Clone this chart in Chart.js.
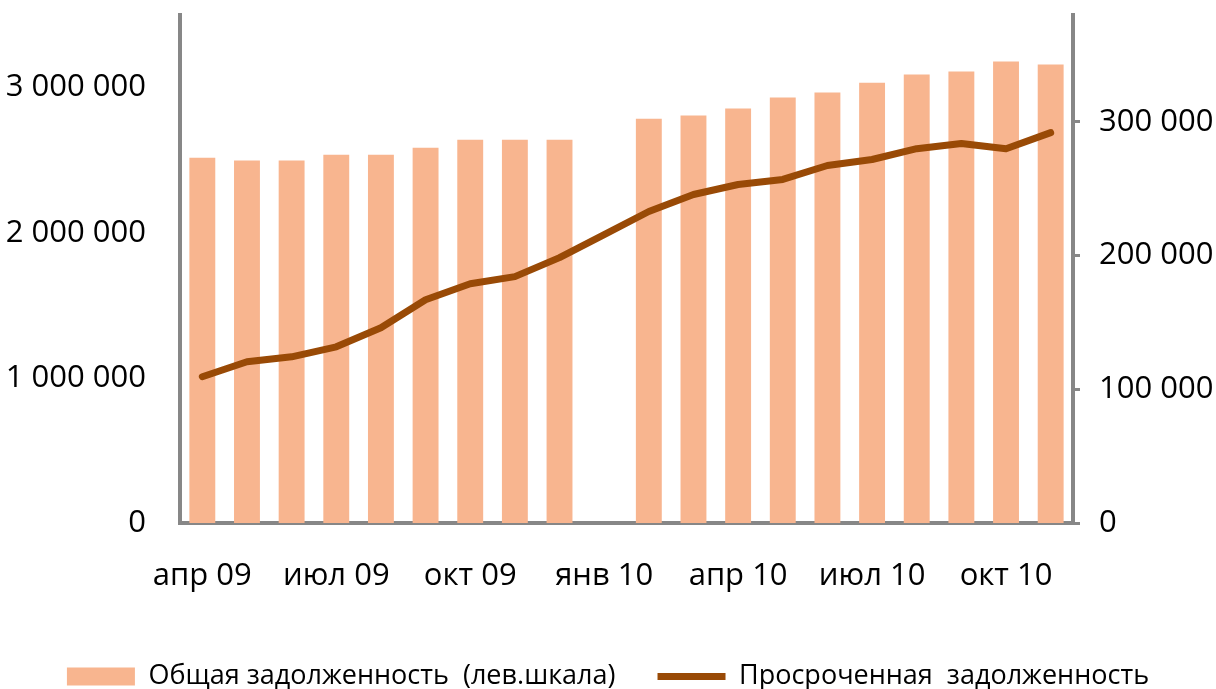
<!DOCTYPE html>
<html>
<head>
<meta charset="utf-8">
<script src="https://cdn.jsdelivr.net/npm/chart.js@4/dist/chart.umd.min.js"></script>
<style>
  html, body { margin: 0; padding: 0; background: #fff; overflow: hidden; }
  #wrap { width: 1216px; height: 700px; }
</style>
</head>
<body>
<div id="wrap"><canvas id="c" width="1216" height="700"></canvas></div>
<script>
// Categories (months)
const categories = ['апр 09','май 09','июн 09','июл 09','авг 09','сен 09','окт 09','ноя 09','дек 09','янв 10',
                    'фев 10','мар 10','апр 10','май 10','июн 10','июл 10','авг 10','сен 10','окт 10','ноя 10'];
// Total debt (left scale)
const totalDebt = [2517000, 2497000, 2497000, 2538000, 2538000, 2586000, 2641000, 2641000, 2641000, null,
                   2786000, 2807000, 2855000, 2931000, 2966000, 3034000, 3090000, 3110000, 3179000, 3159000];
// Overdue debt (right scale)
const overdueDebt = [109400, 120600, 124300, 131800, 146000, 167000, 179000, 184300, 198500, 215700,
                     233000, 245700, 253200, 257000, 267400, 271900, 280000, 283900, 280000, 292000];
const seriesNames = ['Общая задолженность  (лев.шкала)', 'Просроченная  задолженность'];
const leftTicks = [0, 1000000, 2000000, 3000000];
const rightTicks = [0, 100000, 200000, 300000];

const fmt = v => String(v).replace(/\B(?=(\d{3})+(?!\d))/g, ' ');
const AX = '#878787';
const FONT = "'Open Sans'";

new Chart(document.getElementById('c'), {
  type: 'bar',
  data: {
    labels: categories,
    datasets: [
      {
        type: 'bar',
        label: seriesNames[0],
        data: totalDebt,
        yAxisID: 'yL',
        backgroundColor: '#F8B58F',
        borderWidth: 0,
        categoryPercentage: 1.0,
        barPercentage: 0.58,
        pointStyle: 'rect',
        order: 1
      },
      {
        type: 'line',
        label: seriesNames[1],
        data: overdueDebt,
        yAxisID: 'yR',
        borderColor: '#994A06',
        backgroundColor: '#994A06',
        borderWidth: 7,
        borderCapStyle: 'round',
        borderJoinStyle: 'round',
        pointRadius: 0,
        pointStyle: 'line',
        tension: 0,
        fill: false,
        order: 0
      }
    ]
  },
  options: {
    responsive: false,
    animation: false,
    layout: { padding: { top: 15, left: 0, right: 0, bottom: 0 } },
    plugins: {
      tooltip: { enabled: false },
      title: { display: false },
      legend: {
        display: true,
        position: 'bottom',
        align: 'center',
        labels: {
          usePointStyle: true,
          pointStyleWidth: 68,
          boxHeight: 18,
          padding: 42,
          color: '#000',
          font: { family: FONT, size: 27 },
          sort: (a, b) => a.datasetIndex - b.datasetIndex
        }
      }
    },
    scales: {
      x: {
        type: 'category',
        offset: true,
        grid: { display: false, drawTicks: false },
        border: { display: true, color: AX, width: 4 },
        ticks: {
          autoSkip: false,
          maxRotation: 0,
          minRotation: 0,
          padding: 35,
          color: '#000',
          font: { family: FONT, size: 31 },
          callback: function(v, i) { return i % 3 === 0 ? categories[i] : ''; }
        },
        afterFit: s => { s.height = 98; }
      },
      yL: {
        type: 'linear',
        position: 'left',
        min: 0,
        max: 3500000,
        grid: { display: false, drawTicks: false },
        border: { display: true, color: AX, width: 4 },
        ticks: {
          padding: 34,
          color: '#000',
          font: { family: FONT, size: 31 },
          callback: v => fmt(v)
        },
        afterBuildTicks: s => { s.ticks = leftTicks.map(v => ({ value: v })); },
        afterFit: s => { s.width = 180; s.paddingTop = 0; s.paddingBottom = 0; }
      },
      yR: {
        type: 'linear',
        position: 'right',
        min: 0,
        max: 380000,
        grid: { display: true, drawOnChartArea: false, drawTicks: true, tickLength: 7, color: AX, tickColor: AX, lineWidth: 3, tickWidth: 3 },
        border: { display: true, color: AX, width: 4 },
        ticks: {
          padding: 19,
          color: '#000',
          font: { family: FONT, size: 31 },
          callback: v => fmt(v)
        },
        afterBuildTicks: s => { s.ticks = rightTicks.map(v => ({ value: v })); },
        afterFit: s => { s.width = 143; s.paddingTop = 0; s.paddingBottom = 0; }
      }
    }
  }
});
</script>
</body>
</html>
